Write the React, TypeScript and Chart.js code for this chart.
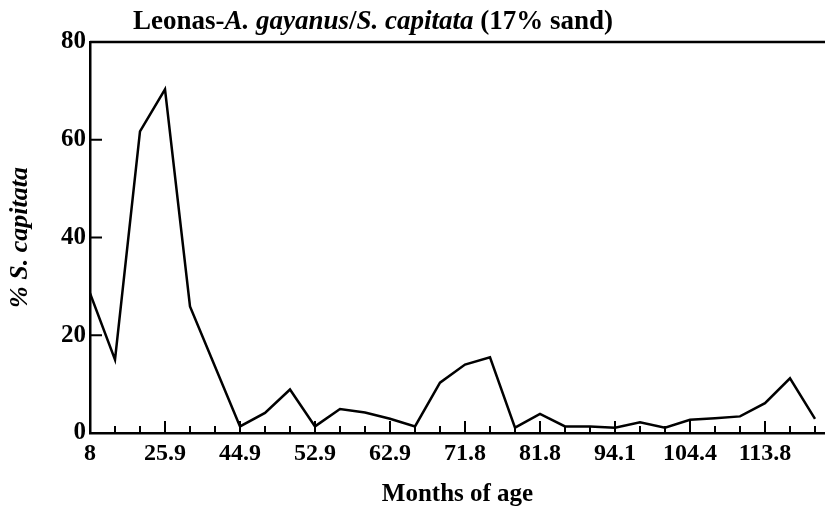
import React, { useEffect, useRef } from "react";
import { Chart, registerables } from "chart.js";

Chart.register(...registerables);

// Sample labels (months of age); only every third sample is labelled on the axis
const monthLabels = [
  "8", "", "", "25.9", "", "", "44.9", "", "", "52.9",
  "", "", "62.9", "", "", "71.8", "", "", "81.8", "",
  "", "94.1", "", "", "104.4", "", "", "113.8", "", "",
];

// % S. capitata at each sample
const pctCapitata = [
  28.6, 15.0, 61.7, 70.3, 25.9, 13.6, 1.35, 4.1, 8.9, 1.35,
  4.9, 4.2, 2.9, 1.35, 10.3, 14.0, 15.5, 1.1, 3.9, 1.35,
  1.35, 1.1, 2.2, 1.1, 2.7, 3.0, 3.4, 6.1, 11.2, 2.9,
];

const yTicks = [0, 20, 40, 60, 80];

const titleParts = [
  { text: "Leonas-", italic: false },
  { text: "A. gayanus", italic: true },
  { text: "/", italic: false },
  { text: "S. capitata", italic: true },
  { text: " (17% sand)", italic: false },
];

const FONT = '"Liberation Serif", "Times New Roman", serif';

const framePlugin = {
  id: "framePlugin",
  afterDraw(chart: any) {
    const { ctx, chartArea, scales } = chart;
    const xs = scales.x;
    const ys = scales.y;
    ctx.save();
    ctx.strokeStyle = "#000";
    // top frame line
    ctx.lineWidth = 2.5;
    ctx.beginPath();
    ctx.moveTo(chartArea.left, chartArea.top);
    ctx.lineTo(chartArea.right, chartArea.top);
    ctx.stroke();
    // inward x ticks
    ctx.lineWidth = 2;
    ctx.beginPath();
    monthLabels.forEach((lab, i) => {
      if (i === 0) return;
      const px = xs.getPixelForValue(i);
      const len = lab ? 12 : 7;
      ctx.moveTo(px, chartArea.bottom);
      ctx.lineTo(px, chartArea.bottom - len);
    });
    // inward y ticks
    yTicks.forEach((v) => {
      if (v === yTicks[0] || v === yTicks[yTicks.length - 1]) return;
      const py = ys.getPixelForValue(v);
      ctx.moveTo(chartArea.left, py);
      ctx.lineTo(chartArea.left + 12, py);
    });
    ctx.stroke();
    // mixed-style title
    const size = 27;
    const fontFor = (italic: boolean) => `${italic ? "italic " : ""}bold ${size}px ${FONT}`;
    let total = 0;
    const widths = titleParts.map((p) => {
      ctx.font = fontFor(p.italic);
      const w = ctx.measureText(p.text).width;
      total += w;
      return w;
    });
    let x = 373 - total / 2;
    ctx.fillStyle = "#000";
    ctx.textBaseline = "middle";
    ctx.textAlign = "left";
    titleParts.forEach((p, i) => {
      ctx.font = fontFor(p.italic);
      ctx.fillText(p.text, x, 22);
      x += widths[i];
    });
    ctx.restore();
  },
};

export default function App() {
  const ref = useRef<HTMLCanvasElement | null>(null);

  useEffect(() => {
    if (!ref.current) return;
    const chart = new Chart(ref.current, {
      type: "line",
      data: {
        datasets: [
          {
            label: "% S. capitata",
            data: pctCapitata.map((v, i) => ({ x: i, y: v })),
            borderColor: "#000",
            borderWidth: 2.5,
            pointRadius: 0,
            tension: 0,
            fill: false,
          },
        ],
      },
      options: {
        responsive: false,
        animation: false,
        layout: { padding: { top: 42, right: 0, left: 0, bottom: 0 } },
        plugins: {
          legend: { display: false },
          tooltip: { enabled: false },
          title: { display: false },
        },
        scales: {
          x: {
            type: "linear",
            min: 0,
            max: 29.4,
            afterFit: (s: any) => {
              s.height = 80;
            },
            afterBuildTicks: (s: any) => {
              s.ticks = monthLabels.map((_, i) => ({ value: i }));
            },
            grid: { display: false, drawTicks: false },
            border: { display: true, color: "#000", width: 2.5 },
            ticks: {
              autoSkip: false,
              maxRotation: 0,
              padding: 6,
              color: "#000",
              font: { family: FONT, size: 24, weight: "bold" },
              callback: (v: any) => (Number.isInteger(v) ? monthLabels[v] ?? "" : ""),
            },
            title: {
              display: true,
              text: "Months of age",
              color: "#000",
              font: { family: FONT, size: 25, weight: "bold" },
              padding: { top: 0, bottom: 3 },
            },
          },
          y: {
            min: 0,
            max: 80,
            afterFit: (s: any) => {
              s.width = 90;
            },
            afterBuildTicks: (s: any) => {
              s.ticks = yTicks.map((v) => ({ value: v }));
            },
            grid: { display: false, drawTicks: false },
            border: { display: true, color: "#000", width: 2.5 },
            ticks: {
              padding: 4,
              color: "#000",
              font: { family: FONT, size: 25, weight: "bold" },
            },
            title: {
              display: true,
              text: "% S. capitata",
              color: "#000",
              font: { family: FONT, size: 26, weight: "bold", style: "italic" },
              padding: { top: 5, bottom: 0 },
            },
          },
        },
      },
      plugins: [framePlugin],
    });
    return () => chart.destroy();
  }, []);

  return (
    <div style={{ position: "fixed", left: 0, top: 0, width: 825, height: 513, background: "#fff" }}>
      <canvas ref={ref} width={825} height={513} style={{ display: "block" }} />
    </div>
  );
}
